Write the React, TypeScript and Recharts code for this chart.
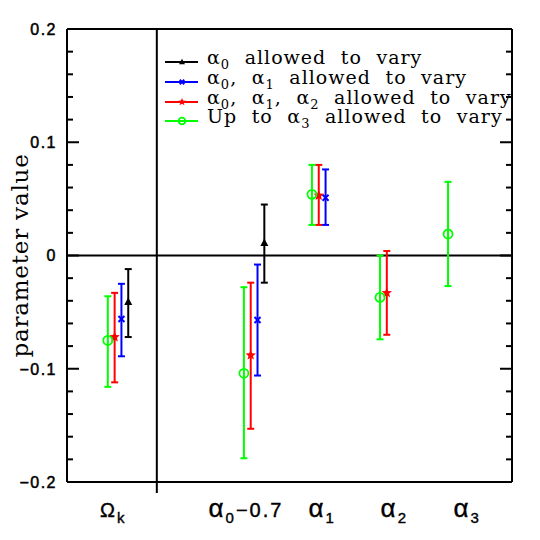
import React from "react";
import {
  ScatterChart,
  Scatter,
  XAxis,
  YAxis,
  ErrorBar,
  ReferenceLine,
  Legend,
} from "recharts";

// categories along the bottom and the slot each one sits in (slot 1 is the gap behind the divider)
const categories = ["Ωk", "α0−0.7", "α1", "α2", "α3"];
const categorySlots = [0, 2, 3, 4, 5];
const labelSlots = [0.08, 2.03, 3.15, 4.21, 5.28];
const dividerSlot = 0.72;

const yTicks = [
  -0.2, -0.18, -0.16, -0.14, -0.12, -0.1, -0.08, -0.06, -0.04, -0.02, 0, 0.02,
  0.04, 0.06, 0.08, 0.1, 0.12, 0.14, 0.16, 0.18, 0.2,
];
const yTickLabels: Record<string, string> = {
  "-0.2": "−0.2",
  "-0.1": "−0.1",
  "0": "0",
  "0.1": "0.1",
  "0.2": "0.2",
};

// alpha0 only
const blackValues = [-0.041, 0.011];
const blackLow = [-0.072, -0.024];
const blackHigh = [-0.012, 0.045];

// alpha0, alpha1
const blueValues = [-0.056, -0.057, 0.051];
const blueLow = [-0.089, -0.106, 0.027];
const blueHigh = [-0.025, -0.008, 0.076];

// alpha0, alpha1, alpha2
const redValues = [-0.072, -0.088, 0.053, -0.033];
const redLow = [-0.112, -0.153, 0.027, -0.07];
const redHigh = [-0.033, -0.024, 0.08, 0.004];

// up to alpha3
const greenValues = [-0.075, -0.104, 0.054, -0.037, 0.019];
const greenLow = [-0.116, -0.179, 0.027, -0.074, -0.027];
const greenHigh = [-0.036, -0.028, 0.08, 0.0, 0.065];

const build = (values: number[], lows: number[], highs: number[], shift: number) =>
  values.map((v, i) => ({
    x: categorySlots[i] + shift,
    y: v,
    err: [v - lows[i], highs[i] - v],
  }));

type Kind = "triangle" | "cross" | "star" | "circle";

const starPoints = (cx: number, cy: number, r1: number, r2: number) =>
  Array.from({ length: 10 }, (_, k) => {
    const r = k % 2 === 0 ? r1 : r2;
    const a = -Math.PI / 2 + (k * Math.PI) / 5;
    return `${cx + r * Math.cos(a)},${cy + r * Math.sin(a)}`;
  }).join(" ");

const Marker = ({ kind, cx, cy, color, s = 1 }: any) => {
  if (kind === "triangle")
    return (
      <polygon
        points={`${cx},${cy - 4.5 * s} ${cx - 4 * s},${cy + 3 * s} ${cx + 4 * s},${cy + 3 * s}`}
        fill={color}
      />
    );
  if (kind === "cross")
    return (
      <g stroke={color} strokeWidth={2}>
        <line x1={cx - 3 * s} y1={cy - 3 * s} x2={cx + 3 * s} y2={cy + 3 * s} />
        <line x1={cx - 3 * s} y1={cy + 3 * s} x2={cx + 3 * s} y2={cy - 3 * s} />
      </g>
    );
  if (kind === "star") return <polygon points={starPoints(cx, cy, 5.5 * s, 2.4 * s)} fill={color} />;
  return <circle cx={cx} cy={cy} r={4.5 * s} fill="none" stroke={color} strokeWidth={1.8} />;
};

const series = [
  {
    key: "black",
    color: "#000000",
    kind: "triangle" as Kind,
    data: build(blackValues, blackLow, blackHigh, 0.3),
    label: [["α", 0], ["0", 1], [" allowed to vary", 0]],
  },
  {
    key: "blue",
    color: "#0000ff",
    kind: "cross" as Kind,
    data: build(blueValues, blueLow, blueHigh, 0.2),
    label: [["α", 0], ["0", 1], [", α", 0], ["1", 1], [" allowed to vary", 0]],
  },
  {
    key: "red",
    color: "#ff0000",
    kind: "star" as Kind,
    data: build(redValues, redLow, redHigh, 0.1),
    label: [["α", 0], ["0", 1], [", α", 0], ["1", 1], [", α", 0], ["2", 1], [" allowed to vary", 0]],
  },
  {
    key: "green",
    color: "#00ff00",
    kind: "circle" as Kind,
    data: build(greenValues, greenLow, greenHigh, 0),
    label: [["Up to α", 0], ["3", 1], [" allowed to vary", 0]],
  },
];

const subParts = (parts: any[], subDy: number, subSize: number) => {
  let down = false;
  return parts.map(([t, sub]: any, i: number) => {
    let dy = 0;
    if (sub && !down) {
      dy = subDy;
      down = true;
    } else if (!sub && down) {
      dy = -subDy;
      down = false;
    }
    return (
      <tspan key={i} dy={dy} fontSize={sub ? subSize : undefined}>
        {t}
      </tspan>
    );
  });
};

const legendRows = [22, 42, 62, 81];

const LegendBox = () => (
  <svg width={360} height={95} style={{ display: "block", overflow: "visible" }}>
    {series.map((s, i) => (
      <g key={s.key}>
        <line x1={5} y1={legendRows[i]} x2={38} y2={legendRows[i]} stroke={s.color} strokeWidth={2} />
        <Marker kind={s.kind} cx={22} cy={legendRows[i]} color={s.color} s={0.75} />
        <text
          x={47}
          y={legendRows[i] + 1.8}
          fontFamily="DejaVu Serif"
          fontSize={19}
          letterSpacing={1}
          wordSpacing={7.5}
          fill="#000"
        >
          {subParts(s.label, 5, 13)}
        </text>
      </g>
    ))}
  </svg>
);

const xLabelParts: any[][] = [
  [["Ω", 0], ["k", 1]],
  [["α", 2], ["0", 1], ["−0.7", 0]],
  [["α", 2], ["1", 1]],
  [["α", 2], ["2", 1]],
  [["α", 2], ["3", 1]],
];

const XTick = ({ x, y, payload }: any) => {
  const v = payload.value;
  if (v === dividerSlot)
    return <line x1={x} y1={y} x2={x} y2={y + 11} stroke="#000" strokeWidth={2} />;
  const i = labelSlots.indexOf(v);
  if (i < 0) return null;
  let down = false;
  return (
    <text
      x={x}
      y={y + 35}
      textAnchor="middle"
      fontFamily="Liberation Sans"
      fontSize={20}
      letterSpacing={2}
      fill="#000"
      stroke="#000"
      strokeWidth={0.4}
    >
      {xLabelParts[i].map(([t, k]: any, j: number) => {
        let dy = 0;
        if (k === 1 && !down) {
          dy = 6;
          down = true;
        } else if (k !== 1 && down) {
          dy = -6;
          down = false;
        }
        return (
          <tspan key={j} dy={dy} fontSize={k === 1 ? 15 : k === 2 ? 26 : 20}>
            {t}
          </tspan>
        );
      })}
    </text>
  );
};

const isMajor = (v: number) => Math.abs(v * 10 - Math.round(v * 10)) < 1e-6;

const LeftTick = ({ x, y, payload }: any) => {
  const v = payload.value;
  const major = isMajor(v);
  return (
    <g>
      <line x1={x} y1={y} x2={x + (major ? 12 : 6)} y2={y} stroke="#000" strokeWidth={2} />
      {major && (
        <text
          x={x - 10}
          y={y}
          dy="0.36em"
          textAnchor="end"
          fontFamily="Liberation Sans"
          fontSize={16}
          letterSpacing={1.5}
          fill="#000"
          stroke="#000"
          strokeWidth={0.5}
        >
          {yTickLabels[String(Math.round(v * 10) / 10)]}
        </text>
      )}
    </g>
  );
};

const RightTick = ({ x, y, payload }: any) => {
  const major = isMajor(payload.value);
  return <line x1={x} y1={y} x2={x - (major ? 12 : 6)} y2={y} stroke="#000" strokeWidth={2} />;
};

const YLabel = (props: any) => {
  const vb = props.viewBox || {};
  const cy = vb.height ? vb.y + vb.height / 2 : 255;
  const x = 28;
  return (
    <text
      x={x}
      y={cy}
      transform={`rotate(-90, ${x}, ${cy})`}
      textAnchor="middle"
      fontFamily="DejaVu Serif"
      fontSize={23}
      letterSpacing={0.8}
      fill="#000"
    >
      parameter value
    </text>
  );
};

const axisLine = { stroke: "#000", strokeWidth: 2 };
const xDomain = [-0.6, 5.94];
const yDomain = [-0.2, 0.2];

export default function App() {
  return (
    <div style={{ position: "absolute", left: 0, top: 0, width: 540, height: 540, background: "#fff" }}>
      <ScatterChart width={540} height={540} margin={{ top: 19, right: 8, bottom: 18, left: 7 }}>
        <XAxis
          type="number"
          dataKey="x"
          domain={xDomain}
          allowDataOverflow
          ticks={[...labelSlots, dividerSlot]}
          interval={0}
          height={40}
          tickSize={0}
          tickMargin={0}
          tickLine={false}
          axisLine={axisLine}
          tick={<XTick />}
        />
        <XAxis
          xAxisId="top"
          orientation="top"
          type="number"
          domain={xDomain}
          allowDataOverflow
          height={10}
          tick={false}
          tickLine={false}
          axisLine={axisLine}
        />
        <YAxis
          type="number"
          dataKey="y"
          domain={yDomain}
          allowDataOverflow
          ticks={yTicks}
          interval={0}
          width={60}
          tickSize={0}
          tickMargin={0}
          tickLine={false}
          axisLine={axisLine}
          tick={<LeftTick />}
          label={YLabel}
        />
        <YAxis
          yAxisId="right"
          orientation="right"
          type="number"
          domain={yDomain}
          allowDataOverflow
          ticks={yTicks}
          interval={0}
          width={20}
          tickSize={0}
          tickMargin={0}
          tickLine={false}
          axisLine={axisLine}
          tick={<RightTick />}
        />
        <ReferenceLine y={0} stroke="#000" strokeWidth={2} />
        <ReferenceLine x={dividerSlot} stroke="#000" strokeWidth={2} />
        {series.map((s) => (
          <Scatter
            key={s.key}
            name={s.key}
            data={s.data}
            fill={s.color}
            isAnimationActive={false}
            shape={(p: any) => <Marker kind={s.kind} cx={p.cx} cy={p.cy} color={s.color} />}
          >
            <ErrorBar dataKey="err" direction="y" width={3.5} stroke={s.color} strokeWidth={2} />
          </Scatter>
        ))}
        <Legend
          layout="horizontal"
          verticalAlign="middle"
          align="center"
          content={() => <LegendBox />}
          wrapperStyle={{ position: "absolute", left: 160, top: 40, width: 360, height: 95 }}
        />
      </ScatterChart>
    </div>
  );
}
